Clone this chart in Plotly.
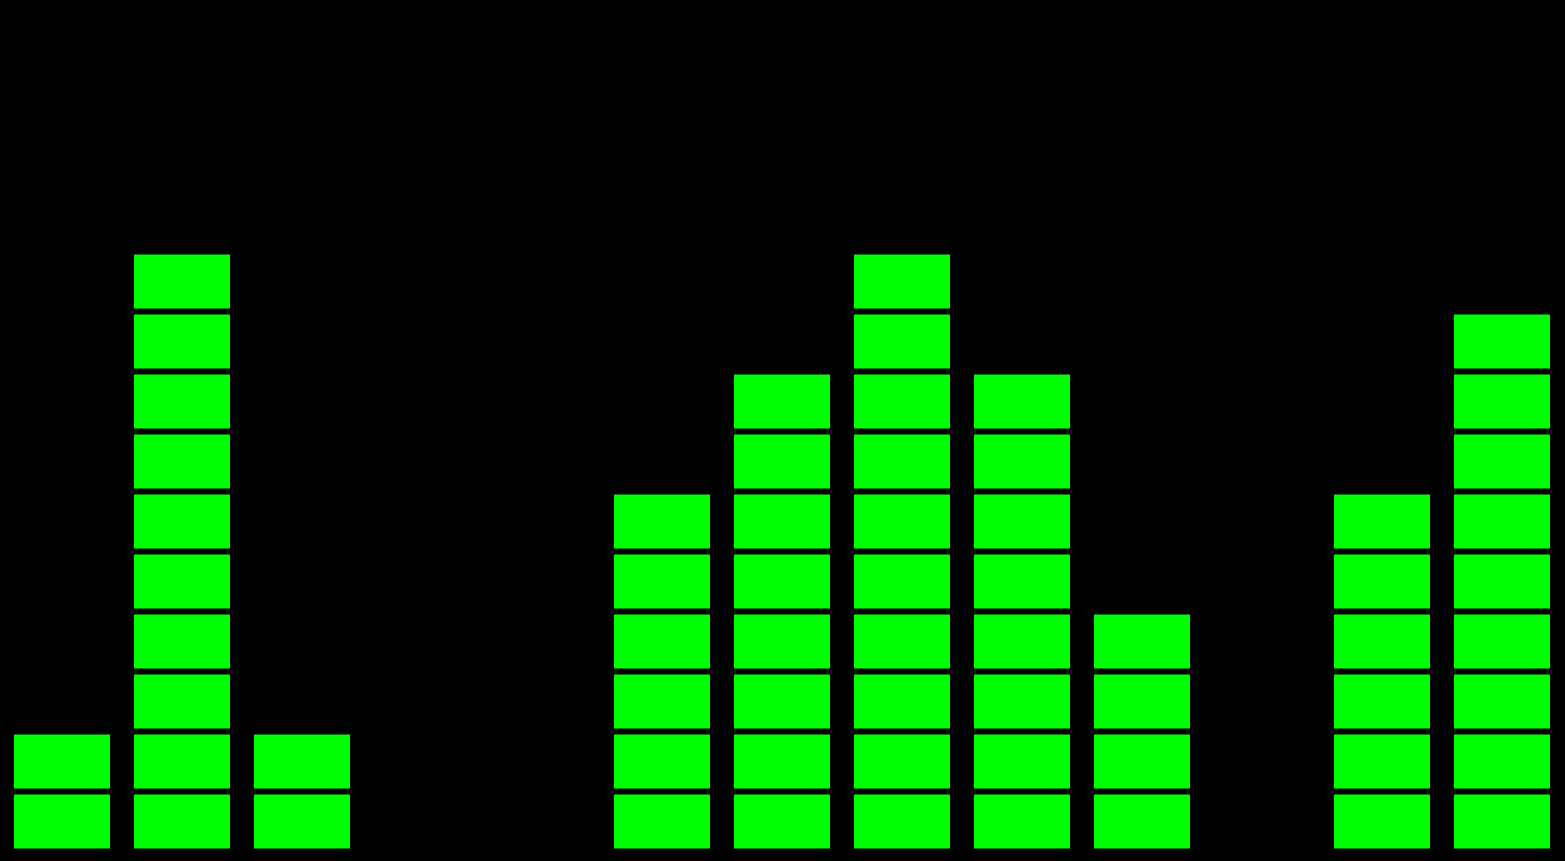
import plotly.graph_objects as go

columns = list(range(13))
levels = [2, 10, 2, 0, 0, 6, 8, 10, 8, 4, 0, 6, 9]

block_x = []
block_base = []
for c, v in zip(columns, levels):
    for k in range(v):
        block_x.append(c)
        block_base.append(k)

fig = go.Figure(
    go.Bar(
        x=block_x,
        y=[0.9] * len(block_x),
        base=block_base,
        width=0.8,
        marker=dict(color="#00ff00", line=dict(width=0)),
        hoverinfo="skip",
    )
)

fig.update_layout(
    width=1565,
    height=861,
    margin=dict(l=0, r=0, t=0, b=0),
    paper_bgcolor="#000000",
    plot_bgcolor="#000000",
    showlegend=False,
    barmode="overlay",
    xaxis=dict(range=[-62 / 120, 1503 / 120], visible=False, fixedrange=True),
    yaxis=dict(range=[-12.5 / 60, 848.5 / 60], visible=False, fixedrange=True),
)

fig.write_html("out.html")
